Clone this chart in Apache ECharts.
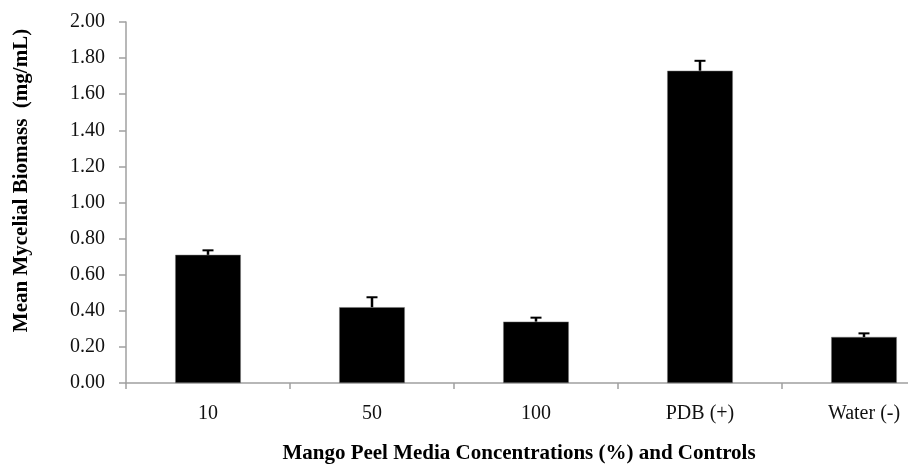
<!DOCTYPE html>
<html>
<head>
<meta charset="utf-8">
<script src="https://cdn.jsdelivr.net/npm/echarts@6/dist/echarts.min.js"></script>
<style>html,body{margin:0;padding:0;background:#fff;overflow:hidden;}#c{width:908px;height:464px;}</style>
</head>
<body>
<div id="c"></div>
<script>
const categories = ['10', '50', '100', 'PDB (+)', 'Water (-)'];
const means = [0.71, 0.42, 0.34, 1.73, 0.255];
const errors = [0.025, 0.055, 0.022, 0.055, 0.02];
const yTicks = [0, 0.2, 0.4, 0.6, 0.8, 1.0, 1.2, 1.4, 1.6, 1.8, 2.0];

const FONT = '"Liberation Serif", "Times New Roman", serif';
const chart = echarts.init(document.getElementById('c'));
chart.setOption({
  animation: false,
  backgroundColor: '#fff',
  grid: { left: 126, top: 22, width: 820, bottom: 81, containLabel: false, outerBoundsMode: 'none' },
  xAxis: {
    type: 'category',
    data: categories,
    name: 'Mango Peel Media Concentrations (%) and Controls',
    nameLocation: 'middle',
    nameGap: 60,
    nameTextStyle: { fontFamily: FONT, fontSize: 21, fontWeight: 'bold', color: '#000', padding: [0, 34, 0, 0] },
    axisLine: { lineStyle: { color: '#a0a0a0', width: 1.5 } },
    axisTick: { show: true, alignWithLabel: false, length: 6, lineStyle: { color: '#a0a0a0', width: 1.5 } },
    axisLabel: { fontFamily: FONT, fontSize: 20, color: '#111', margin: 21 }
  },
  yAxis: {
    type: 'value',
    min: yTicks[0], max: yTicks[yTicks.length - 1], interval: 0.2,
    name: 'Mean Mycelial Biomass  (mg/mL)',
    nameLocation: 'middle',
    nameGap: 94,
    nameTextStyle: { fontFamily: FONT, fontSize: 21, fontWeight: 'bold', color: '#000', padding: [0, 0, 0, 44] },
    axisLine: { show: true, lineStyle: { color: '#a0a0a0', width: 1.5 } },
    axisTick: { show: true, length: 7, lineStyle: { color: '#a0a0a0', width: 1.5 } },
    splitLine: { show: false },
    axisLabel: {
      fontFamily: FONT, fontSize: 20, color: '#111', margin: 21,
      formatter: v => v.toFixed(2)
    }
  },
  series: [
    {
      type: 'bar',
      data: means,
      barWidth: '40%',
      itemStyle: { color: '#000', borderColor: '#777', borderWidth: 0.5 }
    },
    {
      type: 'custom',
      data: means.map((m, i) => [i, m, m + errors[i]]),
      z: 5,
      renderItem: function (params, api) {
        const x = api.value(0);
        const lo = api.coord([x, api.value(1)]);
        const hi = api.coord([x, api.value(2)]);
        const half = 5.5;
        return {
          type: 'group',
          children: [
            { type: 'line', shape: { x1: lo[0], y1: lo[1], x2: hi[0], y2: hi[1] }, style: { stroke: '#000', lineWidth: 2.5 } },
            { type: 'line', shape: { x1: hi[0] - half, y1: hi[1], x2: hi[0] + half, y2: hi[1] }, style: { stroke: '#000', lineWidth: 2 } }
          ]
        };
      }
    }
  ]
});
</script>
</body>
</html>
